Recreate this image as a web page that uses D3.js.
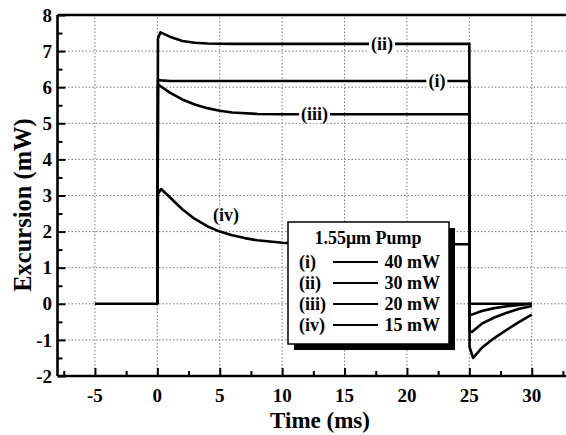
<!DOCTYPE html>
<html>
<head>
<meta charset="utf-8">
<script src="https://cdn.jsdelivr.net/npm/d3@7"></script>
<style>
  body { margin: 0; background: #fff; }
  svg text { font-family: "Times New Roman", "Liberation Serif", "DejaVu Serif", serif; font-weight: bold; }
</style>
</head>
<body>
<div id="vis"></div>
<script>
// data (time in ms, excursion in mW)
const curveI = [[-5, 0], [0, 0], [0.05, 6.2], [0.3, 6.19], [1, 6.17], [25, 6.17], [25.02, 0], [30, 0]];
const curveII = [[0, 0], [0.05, 7.35], [0.25, 7.52], [1, 7.4], [2, 7.28], [3, 7.23], [4, 7.21], [6, 7.2], [25, 7.2],
  [25.02, -0.3], [25.2, -0.3], [26, -0.2], [27, -0.12], [28, -0.07], [29, -0.03], [30, 0]];
const curveIII = [[0, 0], [0.05, 6.0], [0.12, 6.06], [1, 5.85], [2, 5.66], [3, 5.52], [4, 5.42], [5, 5.35], [6, 5.3],
  [8, 5.26], [10, 5.25], [25, 5.25], [25.02, -0.75], [25.2, -0.78], [26, -0.55], [27, -0.38], [28, -0.25], [29, -0.14], [30, -0.06]];
const curveIV = [[0, 0], [0.05, 3.05], [0.3, 3.18], [1, 2.95], [2, 2.62], [3, 2.35], [4, 2.15], [5, 2.0], [6, 1.9],
  [7, 1.82], [8, 1.76], [10, 1.69], [12, 1.66], [15, 1.65], [25, 1.65], [25.02, -1.2], [25.3, -1.5], [26, -1.22],
  [27, -0.95], [28, -0.72], [29, -0.5], [30, -0.3]];

const xTicks = [-5, 0, 5, 10, 15, 20, 25, 30];
const yTicks = [-2, -1, 0, 1, 2, 3, 4, 5, 6, 7, 8];
const legendNames = ["(i)", "(ii)", "(iii)", "(iv)"];
const legendPowers = ["40 mW", "30 mW", "20 mW", "15 mW"];
const curveLabels = [
  { text: "(ii)", t: 18, v: 7.2 },
  { text: "(i)", t: 22.4, v: 6.17 },
  { text: "(iii)", t: 12.6, v: 5.25 },
  { text: "(iv)", t: 5.5, v: 2.45 }
];

const W = 566, H = 435;
const svg = d3.select("#vis").append("svg").attr("width", W).attr("height", H);

const x = d3.scaleLinear().domain([-8, 33]).range([57.5, 57.5 + 41 * 12.48]);
const y = d3.scaleLinear().domain([-2, 8]).range([376, 15]);

// dotted grid
svg.append("g").selectAll("line").data(xTicks.filter(d => d > -8 && d < 33)).join("line")
  .attr("x1", d => x(d)).attr("x2", d => x(d)).attr("y1", y(-2)).attr("y2", y(8))
  .attr("stroke", "#777").attr("stroke-width", 1).attr("stroke-dasharray", "1.5,2");
svg.append("g").selectAll("line").data(yTicks.filter(d => d > -2 && d < 8)).join("line")
  .attr("x1", x(-8)).attr("x2", W).attr("y1", d => y(d)).attr("y2", d => y(d))
  .attr("stroke", "#777").attr("stroke-width", 1).attr("stroke-dasharray", "1.5,2");

// curves
const line = d3.line().x(d => x(d[0])).y(d => y(d[1]));
[curveI, curveII, curveIII, curveIV].forEach(c => {
  svg.append("path").datum(c).attr("d", line)
    .attr("fill", "none").attr("stroke", "#000").attr("stroke-width", 2.6).attr("stroke-linejoin", "round");
});

// curve labels with white background
curveLabels.forEach(l => {
  const g = svg.append("g").attr("transform", `translate(${x(l.t)},${y(l.v)})`);
  const t = g.append("text").attr("text-anchor", "middle").attr("dy", "0.32em")
    .attr("font-size", 18).text(l.text);
  const b = t.node().getBBox();
  g.insert("rect", "text").attr("x", b.x - 2).attr("y", b.y + 2).attr("width", b.width + 4).attr("height", b.height - 4)
    .attr("fill", "#fff");
});

// axes: ticks inward
const xAxis = d3.axisBottom(x).tickValues(d3.range(-7.5, 33, 2.5)).tickSize(-6).tickFormat("");
const gx = svg.append("g").attr("transform", `translate(0,${y(-2)})`).call(xAxis);
gx.selectAll(".tick line").attr("y2", d => (d % 5 === 0 ? -8 : -5)).attr("stroke-width", 2);
gx.select(".domain").remove();
svg.append("g").selectAll("text").data(xTicks).join("text")
  .attr("x", d => x(d)).attr("y", 402).attr("text-anchor", "middle").attr("font-size", 19).text(d => d);

const yAxis = d3.axisLeft(y).tickValues(d3.range(-2, 8.01, 0.5)).tickSize(-5).tickFormat("");
const gy = svg.append("g").attr("transform", `translate(${x(-8)},0)`).call(yAxis);
gy.selectAll(".tick line").attr("x2", d => (d % 1 === 0 ? 8 : 5)).attr("stroke-width", 2);
gy.select(".domain").remove();
svg.append("g").selectAll("text").data(yTicks).join("text")
  .attr("x", 52).attr("y", d => y(d)).attr("dy", "0.35em").attr("text-anchor", "end").attr("font-size", 19)
  .text(d => d);

// frame
svg.append("line").attr("x1", x(-8)).attr("x2", x(-8)).attr("y1", y(8)).attr("y2", y(-2))
  .attr("stroke", "#000").attr("stroke-width", 2.6);
svg.append("line").attr("x1", x(-8)).attr("x2", W).attr("y1", y(-2)).attr("y2", y(-2))
  .attr("stroke", "#000").attr("stroke-width", 2.6);
svg.append("line").attr("x1", x(-8)).attr("x2", W).attr("y1", y(8)).attr("y2", y(8))
  .attr("stroke", "#000").attr("stroke-width", 2.6);

// axis titles
svg.append("text").attr("x", 320).attr("y", 428).attr("text-anchor", "middle").attr("font-size", 23).text("Time (ms)");
svg.append("text").attr("transform", "translate(31,205) rotate(-90)").attr("text-anchor", "middle")
  .attr("font-size", 24.5).text("Excursion (mW)");

// legend
const lg = svg.append("g").attr("transform", "translate(288,222)");
lg.append("rect").attr("x", 6).attr("y", 6).attr("width", 161).attr("height", 122).attr("fill", "#000");
lg.append("rect").attr("x", 0).attr("y", 0).attr("width", 161).attr("height", 122)
  .attr("fill", "#fff").attr("stroke", "#000").attr("stroke-width", 1.5);
lg.append("text").attr("x", 80).attr("y", 22).attr("text-anchor", "middle").attr("font-size", 18).text("1.55\u03bcm Pump");
legendNames.forEach((n, i) => {
  const ry = 40 + i * 21;
  lg.append("text").attr("x", 11).attr("y", ry).attr("dy", "0.35em").attr("font-size", 18).text(n);
  lg.append("line").attr("x1", 45).attr("x2", 90).attr("y1", ry).attr("y2", ry)
    .attr("stroke", "#000").attr("stroke-width", 2);
  lg.append("text").attr("x", 152).attr("y", ry).attr("dy", "0.35em").attr("text-anchor", "end")
    .attr("font-size", 18).text(legendPowers[i]);
});
</script>
</body>
</html>
